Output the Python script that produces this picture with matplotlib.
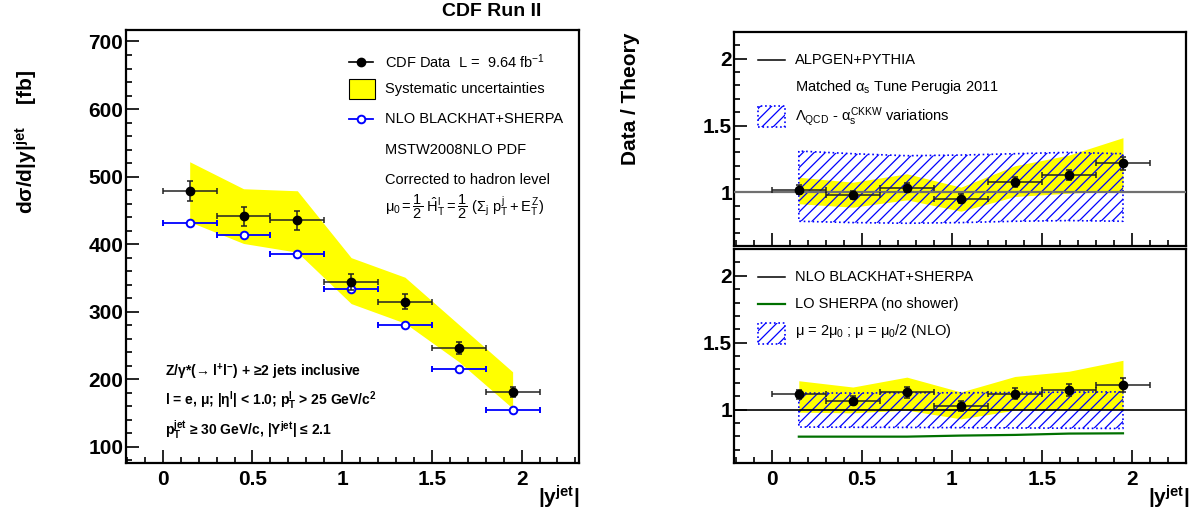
import numpy as np
import matplotlib
matplotlib.use('Agg')
import matplotlib.pyplot as plt
from matplotlib.ticker import MultipleLocator, FormatStrFormatter
from matplotlib.patches import Rectangle
from matplotlib.lines import Line2D

plt.rcParams['font.family'] = ['Liberation Sans', 'DejaVu Sans']
plt.rcParams['font.weight'] = 'bold'
plt.rcParams['mathtext.fontset'] = 'custom'
plt.rcParams['mathtext.rm'] = 'Liberation Sans:weight=normal'
plt.rcParams['mathtext.it'] = 'Liberation Sans:weight=normal'
plt.rcParams['mathtext.bf'] = 'Liberation Sans:weight=bold'
plt.rcParams['hatch.linewidth'] = 0.9

# |y_jet| bins (centre, half width 0.15)
y_center = [0.15, 0.45, 0.75, 1.05, 1.35, 1.65, 1.95]
y_half = 0.15

# cross section [fb]
xsec_data = [479, 441, 435, 344, 315, 246, 181]
xsec_stat = [15, 13.5, 14, 12, 11, 9, 7.6]
xsec_syst_hi = [522, 482, 479, 380, 351, 281, 211]
xsec_syst_lo = [433, 401, 388, 312, 283, 226, 157]
xsec_nlo = [431, 413, 386, 333, 281, 215, 154]

# data / ALPGEN+PYTHIA
r_alp = [1.022, 0.978, 1.037, 0.953, 1.078, 1.13, 1.218]
r_alp_err = [0.035, 0.03, 0.035, 0.035, 0.04, 0.04, 0.05]
r_alp_syst_hi = [1.114, 1.077, 1.14, 1.04, 1.20, 1.28, 1.41]
r_alp_syst_lo = [0.916, 0.89, 0.945, 0.86, 0.97, 0.995, 1.015]
alp_var_hi = [1.31, 1.29, 1.275, 1.28, 1.29, 1.30, 1.29]
alp_var_lo = [0.785, 0.775, 0.77, 0.775, 0.785, 0.79, 0.785]

# data / NLO BLACKHAT+SHERPA
r_nlo = [1.114, 1.067, 1.128, 1.025, 1.118, 1.146, 1.183]
r_nlo_err = [0.035, 0.035, 0.04, 0.035, 0.04, 0.045, 0.05]
r_nlo_syst_hi = [1.215, 1.168, 1.242, 1.131, 1.247, 1.286, 1.368]
r_nlo_syst_lo = [0.98, 0.975, 0.995, 0.93, 0.995, 1.0, 1.0]
nlo_scale_hi = [1.123, 1.123, 1.125, 1.125, 1.127, 1.13, 1.132]
nlo_scale_lo = [0.869, 0.867, 0.866, 0.864, 0.862, 0.86, 0.858]
lo_sherpa = [0.797, 0.797, 0.797, 0.805, 0.81, 0.82, 0.822]

W, H = 1194, 517
fig = plt.figure(figsize=(W / 100, H / 100), dpi=100)


def fx(x):
    return x / W


def fy(y):
    return 1 - y / H


def box(x0, y0, x1, y1):
    return [fx(x0), fy(y1), (x1 - x0) / W, (y1 - y0) / H]


def root_style(a, xlim, ylim, ymaj, ymin, ypad):
    a.set_xlim(*xlim)
    a.set_ylim(*ylim)
    a.xaxis.set_major_locator(MultipleLocator(0.5))
    a.xaxis.set_minor_locator(MultipleLocator(0.1))
    a.yaxis.set_major_locator(MultipleLocator(ymaj))
    a.yaxis.set_minor_locator(MultipleLocator(ymin))
    a.xaxis.set_major_formatter(FormatStrFormatter('%g'))
    a.yaxis.set_major_formatter(FormatStrFormatter('%g'))
    a.tick_params(which='both', direction='in', top=False, right=False, width=1.2)
    a.tick_params(which='major', length=9.5, labelsize=15)
    a.tick_params(which='minor', length=4.5)
    a.tick_params(axis='x', pad=5)
    a.tick_params(axis='y', pad=ypad)
    for s in a.spines.values():
        s.set_linewidth(1.6)


ax = fig.add_axes(box(126, 30, 579, 463))
ax_top = fig.add_axes(box(734, 32, 1186, 246))
ax_bot = fig.add_axes(box(734, 249, 1186, 463))

root_style(ax, (-0.205, 2.32), (76, 717), 100, 20, 2)
root_style(ax_top, (-0.21, 2.30), (0.6, 2.2), 0.5, 0.1, 1.5)
root_style(ax_bot, (-0.21, 2.30), (0.6, 2.2), 0.5, 0.1, 1.5)
ax_top.tick_params(labelbottom=False)

# cross section panel
ax.fill_between(y_center, xsec_syst_lo, xsec_syst_hi, color='#ffff00', lw=0, zorder=1)
ax.errorbar(y_center, xsec_nlo, xerr=y_half, fmt='o', ms=5.5, mfc='white', mec='#0000ff',
            mew=1.4, color='#0000ff', elinewidth=1.3, capsize=2, capthick=1.2, zorder=3)
ax.errorbar(y_center, xsec_data, xerr=y_half, yerr=xsec_stat, fmt='o', ms=6, color='black',
            ecolor='#222222', elinewidth=1.1, capsize=2, capthick=1.1, zorder=4)

# ratio panels
hatch_kw = dict(facecolor='none', edgecolor='#0000ff', hatch='///', lw=1.2, linestyle=':', zorder=2)
ax_top.fill_between(y_center, r_alp_syst_lo, r_alp_syst_hi, color='#ffff00', lw=0, zorder=1)
ax_top.fill_between(y_center, alp_var_lo, alp_var_hi, **hatch_kw)
ax_top.axhline(1, color='#707070', lw=1.6, zorder=3)
ax_top.errorbar(y_center, r_alp, xerr=y_half, yerr=r_alp_err, fmt='o', ms=6, color='black',
                ecolor='#222222', elinewidth=1.1, capsize=2, capthick=1.1, zorder=4)

ax_bot.fill_between(y_center, r_nlo_syst_lo, r_nlo_syst_hi, color='#ffff00', lw=0, zorder=1)
ax_bot.fill_between(y_center, nlo_scale_lo, nlo_scale_hi, **hatch_kw)
ax_bot.plot(y_center, lo_sherpa, color='#007000', lw=1.6, zorder=3)
ax_bot.axhline(1, color='black', lw=1.2, zorder=3)
ax_bot.errorbar(y_center, r_nlo, xerr=y_half, yerr=r_nlo_err, fmt='o', ms=6, color='black',
                ecolor='#222222', elinewidth=1.1, capsize=2, capthick=1.1, zorder=4)

# titles
fig.text(fx(492), fy(12), 'CDF Run II', ha='center', va='center', fontsize=14)
fig.text(fx(26), fy(70), r'dσ/d|y|$^{\mathbf{jet}}$    [fb]', rotation=90,
         ha='center', va='top', fontsize=15)
fig.text(fx(630), fy(33), 'Data / Theory', rotation=90, ha='center', va='top', fontsize=15)
fig.text(fx(579), fy(497), r'|y$^{\mathbf{jet}}$|', ha='right', va='center', fontsize=15)
fig.text(fx(1189), fy(497), r'|y$^{\mathbf{jet}}$|', ha='right', va='center', fontsize=15)

# selection cuts
cuts = [r'Z/γ*(→ l$^{\mathbf{+}}$l$^{\mathbf{-}}$) + ≥2 jets inclusive',
        r'l = e, μ; |η$^{\mathbf{l}}$| < 1.0; p$_{\mathbf{T}}^{\mathbf{l}}$ > 25 GeV/c$^{\mathbf{2}}$',
        r'p$_{\mathbf{T}}^{\mathbf{jet}}$ ≥ 30 GeV/c, |Y$^{\mathbf{jet}}$| ≤ 2.1']
for txt, yy in zip(cuts, [372, 400, 430]):
    fig.text(fx(165), fy(yy), txt, ha='left', va='center', fontsize=10)


def leg_text(x, y, s):
    fig.text(fx(x), fy(y), s, ha='left', va='center', fontsize=10.5, fontweight='normal')


def leg_line(x0, x1, y, **kw):
    fig.add_artist(Line2D([fx(x0), fx(x1)], [fy(y), fy(y)], transform=fig.transFigure, **kw))


def leg_marker(x, y, **kw):
    fig.add_artist(Line2D([fx(x)], [fy(y)], transform=fig.transFigure, ls='none', marker='o', **kw))


def leg_box(x0, y0, x1, y1, **kw):
    fig.add_artist(Rectangle((fx(x0), fy(y1)), fx(x1) - fx(x0), fy(y0) - fy(y1),
                             transform=fig.transFigure, **kw))


# left legend
leg_line(349, 373, 62, color='black', lw=1.2)
leg_marker(361, 62, ms=6, color='black')
leg_text(385, 62, r'CDF Data  L =  9.64 fb$^{-1}$')
leg_box(349, 79, 375, 99, facecolor='#ffff00', edgecolor='black', lw=0.8)
leg_text(385, 89, 'Systematic uncertainties')
leg_line(349, 373, 119, color='#0000ff', lw=1.3)
leg_marker(361, 119, ms=5.5, mfc='white', mec='#0000ff', mew=1.4)
leg_text(385, 119, 'NLO BLACKHAT+SHERPA')
leg_text(385, 150, 'MSTW2008NLO PDF')
leg_text(385, 180, 'Corrected to hadron level')
leg_text(385, 207, r'$\mu_{0} = \dfrac{1}{2}\ \hat{H}_{T}^{l} = \dfrac{1}{2}\ (\Sigma_{j}\ p_{T}^{j} + E_{T}^{Z})$')

# ratio legends
leg_line(758, 785, 60, color='black', lw=1.1)
leg_text(795, 60, 'ALPGEN+PYTHIA')
leg_text(795, 87, r'Matched $\alpha_{s}$ Tune Perugia 2011')
leg_box(758, 106, 785, 127, facecolor='none', edgecolor='#0000ff', hatch='///', lw=1.2, ls=':')
leg_text(795, 117, r'$\Lambda_{QCD}$ - $\alpha_{s}^{CKKW}$ variations')

leg_line(758, 785, 277, color='black', lw=1.1)
leg_text(795, 277, 'NLO BLACKHAT+SHERPA')
leg_line(758, 785, 304, color='#007000', lw=1.6)
leg_text(795, 304, 'LO SHERPA (no shower)')
leg_box(758, 323, 785, 344, facecolor='none', edgecolor='#0000ff', hatch='///', lw=1.2, ls=':')
leg_text(795, 331, r'$\mu$ = 2$\mu_{0}$ ; $\mu$ = $\mu_{0}$/2 (NLO)')

fig.savefig('out.png', dpi=100)
